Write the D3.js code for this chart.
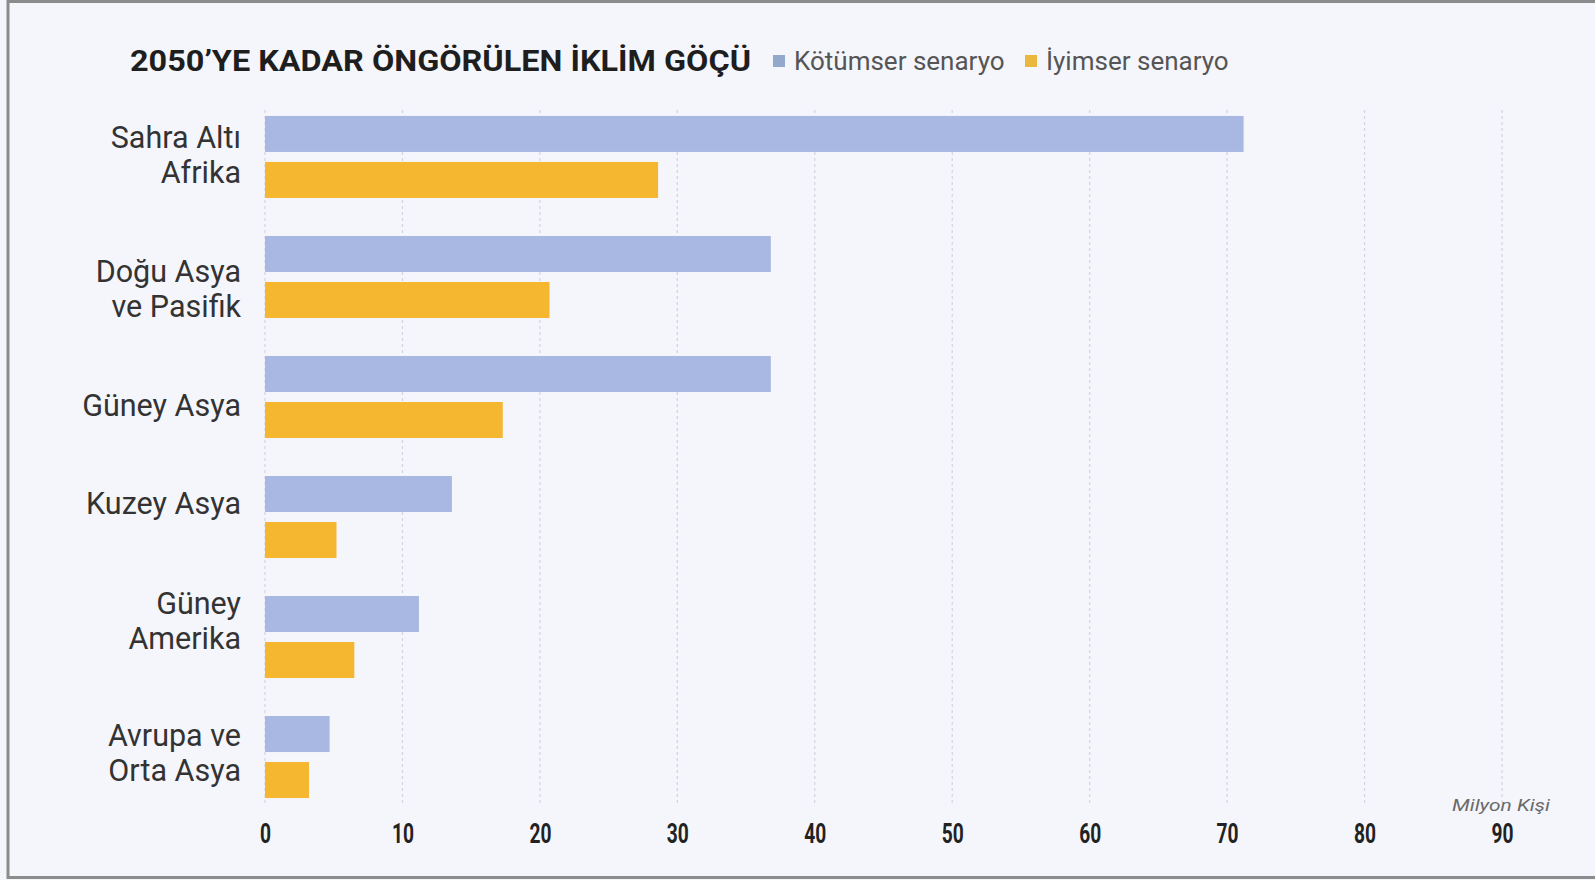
<!DOCTYPE html>
<html>
<head>
<meta charset="utf-8">
<script src="https://cdn.jsdelivr.net/npm/d3@7"></script>
<style>
  html, body { margin: 0; padding: 0; background: #fff; }
  svg { display: block; }
  text { font-family: Roboto, "Noto Sans", sans-serif; }
</style>
</head>
<body>
<svg id="chart" width="1595" height="880"></svg>
<script>
// values, million people
const categories = [
  ["Sahra Altı", "Afrika"],
  ["Doğu Asya", "ve Pasifik"],
  ["Güney Asya"],
  ["Kuzey Asya"],
  ["Güney", "Amerika"],
  ["Avrupa ve", "Orta Asya"]
]
const pessimistic = [71.2, 36.8, 36.8, 13.6, 11.2, 4.7]
const optimistic = [28.6, 20.7, 17.3, 5.2, 6.5, 3.2]
const seriesNames = ["Kötümser senaryo", "İyimser senaryo"]
const tickValues = [0, 10, 20, 30, 40, 50, 60, 70, 80, 90]

const colors = ["#a8b8e2", "#f5b630"]
const legendColors = ["#93a9cc", "#e9b83c"]
// labels in the original are not exactly centred on their groups
const labelNudge = [-2, 12, 8, -13, -16, -4]

const svg = d3.select("#chart")

// background + frame
svg.append("rect")
    .attr("x", 0).attr("y", 0).attr("width", 1595).attr("height", 880)
    .attr("fill", "#f5f6fb")
svg.append("rect")
    .attr("x", 8).attr("y", 1.5).attr("width", 1600).attr("height", 876)
    .attr("fill", "none").attr("stroke", "#8c8c8c").attr("stroke-width", 3)

const keys = categories.map(c => c.join(" "))

const x = d3.scaleLinear().domain([0, 90]).range([265, 1502])

const y = d3.scaleBand()
    .domain(keys)
    .range([97, 817])
    .paddingInner(0.3167)
    .paddingOuter(0.158)

const ySub = d3.scaleBand()
    .domain([0, 1])
    .range([0, y.bandwidth()])
    .paddingInner(10 / 46)

// dashed grid
svg.append("g")
    .selectAll("line")
    .data(tickValues)
    .join("line")
      .attr("x1", d => x(d)).attr("x2", d => x(d))
      .attr("y1", 110).attr("y2", 806)
      .attr("stroke", "#d3d7e2")
      .attr("stroke-width", 1.3)
      .attr("stroke-dasharray", "3,3")

// bars
const rows = keys.map((k, i) => ({key: k, values: [pessimistic[i], optimistic[i]]}))

const group = svg.append("g")
  .selectAll("g")
  .data(rows)
  .join("g")
    .attr("transform", d => `translate(0,${y(d.key)})`)

group.selectAll("rect")
  .data(d => d.values.map((v, s) => ({v, s})))
  .join("rect")
    .attr("x", x(0))
    .attr("y", d => ySub(d.s))
    .attr("width", d => x(d.v) - x(0))
    .attr("height", ySub.bandwidth())
    .attr("fill", d => colors[d.s])

// category labels
svg.append("g")
  .selectAll("text")
  .data(categories)
  .join("text")
    .attr("text-anchor", "end")
    .attr("x", 241)
    .attr("y", (d, i) => y(keys[i]) + y.bandwidth() / 2 + labelNudge[i] * 1.017)
    .attr("font-size", 30.5)
    .attr("fill", "#333")
    .each(function(lines) {
      const t = d3.select(this)
      const n = lines.length
      lines.forEach((line, j) => {
        t.append("tspan")
          .attr("x", 241)
          .attr("dy", j === 0 ? `${(0.35 - (n - 1) * 0.57)}em` : "1.14em")
          .text(line)
      })
    })

// x axis
const xAxis = d3.axisBottom(x)
    .tickValues(tickValues)
    .tickSize(0)
    .tickPadding(0)

const axisG = svg.append("g")
    .attr("transform", "translate(0,833)")
    .call(xAxis)
axisG.select(".domain").remove()
axisG.selectAll("text")
    .attr("font-family", "Roboto, sans-serif")
    .attr("font-size", 28)
    .attr("font-weight", 700)
    .attr("fill", "#222")
    .attr("dy", "0.35em")
    .attr("y", 0)
    .attr("textLength", d => String(d).length * 11)
    .attr("lengthAdjust", "spacingAndGlyphs")

svg.append("text")
    .attr("x", 1550).attr("y", 811)
    .attr("text-anchor", "end")
    .attr("font-size", 17)
    .attr("font-style", "italic")
    .attr("fill", "#6a6a6a")
    .attr("textLength", 98)
    .attr("lengthAdjust", "spacingAndGlyphs")
    .text("Milyon Kişi")

// title
svg.append("text")
    .attr("x", 130).attr("y", 71)
    .attr("font-size", 30)
    .attr("font-weight", 700)
    .attr("fill", "#1e1e1e")
    .attr("textLength", 621)
    .attr("lengthAdjust", "spacingAndGlyphs")
    .text("2050’YE KADAR ÖNGÖRÜLEN İKLİM GÖÇÜ")

// legend
const legendX = [773, 1025]
const legend = svg.append("g")
  .selectAll("g")
  .data(seriesNames)
  .join("g")
    .attr("transform", (d, i) => `translate(${legendX[i]},54)`)
legend.append("rect")
    .attr("width", 12).attr("height", 12)
    .attr("y", 1)
    .attr("fill", (d, i) => legendColors[i])
legend.append("text")
    .attr("x", 21).attr("y", 7)
    .attr("dy", "0.35em")
    .attr("font-size", 26)
    .attr("fill", "#555")
    .text(d => d)
</script>
</body>
</html>
